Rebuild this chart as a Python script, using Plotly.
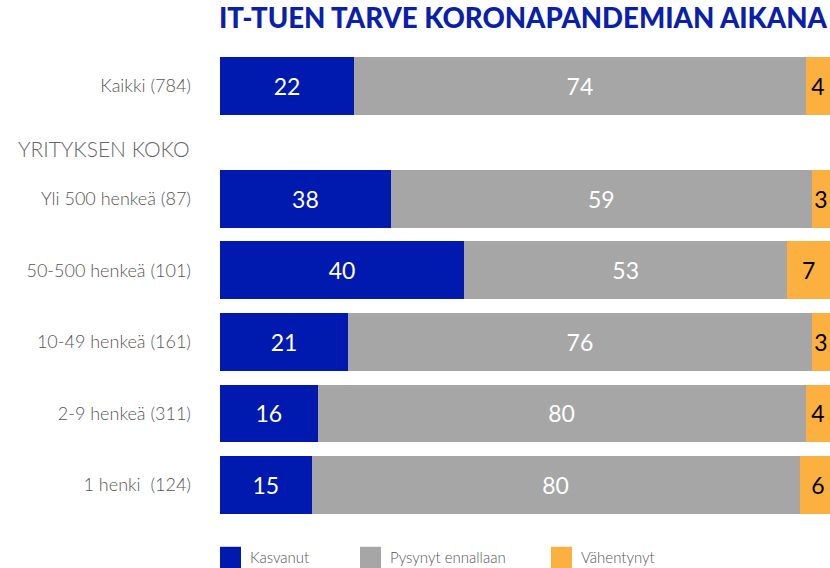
import plotly.graph_objects as go

# ---- data ----
categories = ["Kaikki (784)", "Yli 500 henkeä (87)", "50-500 henkeä (101)",
              "10-49 henkeä (161)", "2-9 henkeä (311)", "1 henki  (124)"]
group_header = "YRITYKSEN KOKO"
series_names = ["Kasvanut", "Pysynyt ennallaan", "Vähentynyt"]
# printed values
kasvanut_labels = [22, 38, 40, 21, 16, 15]
pysynyt_labels = [74, 59, 53, 76, 80, 80]
vahentynyt_labels = [4, 3, 7, 3, 4, 6]
# bar lengths as drawn in the picture (the "Yli 500" bar is drawn shorter than its label)
kasvanut_len = [22, 28, 40, 21, 16, 15]
pysynyt_len = [74, 69, 53, 76, 80, 80]
vahentynyt_len = [4, 3, 7, 3, 4, 6]
title_text = "IT-TUEN TARVE KORONAPANDEMIAN AIKANA"

# ---- layout helpers ----
GAP = 0.58  # extra space for the group header row
row_pos = [0] + [i + GAP for i in range(1, len(categories))]
header_pos = 0.87

colors = ["#0019AF", "#A6A6A6", "#FBB040"]
text_colors = ["white", "white", "black"]
lens = [kasvanut_len, pysynyt_len, vahentynyt_len]
labels = [kasvanut_labels, pysynyt_labels, vahentynyt_labels]

FONT = "Lato"
fig = go.Figure()
for name, c, tc, ln, lb in zip(series_names, colors, text_colors, lens, labels):
    fig.add_trace(go.Bar(
        y=row_pos, x=ln, name=name, orientation="h",
        marker=dict(color=c, line=dict(width=0)),
        width=0.81,
        text=[str(v) for v in lb], textposition="inside",
        insidetextanchor="middle",
        textfont=dict(color=tc, size=23, family=FONT),
        showlegend=False,
    ))

fig.update_layout(
    barmode="stack",
    width=830, height=568,
    margin=dict(l=220, r=0, t=40, b=40),
    plot_bgcolor="white", paper_bgcolor="white",
    uniformtext=dict(minsize=23, mode="show"),
    xaxis=dict(range=[0, 100], visible=False, fixedrange=True),
    yaxis=dict(range=[6.182, -0.643], tickvals=row_pos, ticktext=categories,
               showgrid=False, zeroline=False, ticks="", showline=False,
               ticklabelstandoff=28,
               tickfont=dict(size=18, color="#555555", family=FONT, weight=300)),
    font=dict(family=FONT),
)

fig.add_annotation(text=title_text, xref="paper", yref="paper", x=1.0, y=1.0,
                   xanchor="right", yanchor="bottom", yshift=4, showarrow=False,
                   font=dict(size=27.6, color="#0A1FAA", family=FONT, weight=900))
fig.add_annotation(text=group_header, xref="paper", yref="y", x=0, y=header_pos,
                   xanchor="right", yanchor="middle", xshift=-28, showarrow=False,
                   font=dict(size=21, color="#666666", family=FONT, weight=300))

# manual legend
leg_x = [0.0, 0.2295, 0.5426]
for name, c, lx in zip(series_names, colors, leg_x):
    fig.add_shape(type="rect", xref="paper", yref="paper",
                  x0=lx, x1=lx + 21 / 610, y0=-0.09, y1=-0.0385,
                  fillcolor=c, line=dict(width=0))
    fig.add_annotation(text=name, xref="paper", yref="paper", x=lx + 28 / 610,
                       y=-0.059, xanchor="left", yanchor="middle", showarrow=False,
                       font=dict(size=15, color="#555555", family=FONT, weight=300))

fig.write_html("out.html", config={"displayModeBar": False},
               post_script="document.body.style.margin='0';document.body.style.overflow='hidden';")
